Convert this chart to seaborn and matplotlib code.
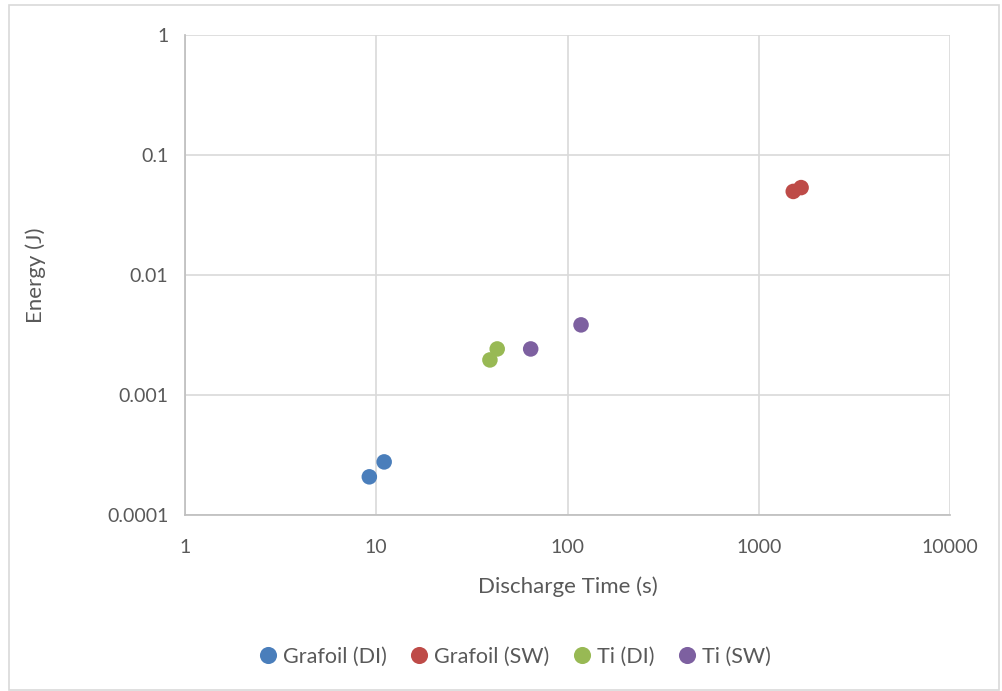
import matplotlib
matplotlib.use("Agg")
import matplotlib.pyplot as plt
import seaborn as sns
import pandas as pd
from matplotlib.patches import Rectangle
from matplotlib.ticker import FixedLocator, FixedFormatter, NullLocator

series = ["Grafoil (DI)", "Grafoil (SW)", "Ti (DI)", "Ti (SW)"]
colors = ["#4a7ebb", "#be4b48", "#98b954", "#7d60a0"]
time_grafoil_di = [9.2, 11.0]
energy_grafoil_di = [0.000208, 0.000277]
time_grafoil_sw = [1515, 1665]
energy_grafoil_sw = [0.0497, 0.0535]
time_ti_di = [39.3, 42.9]
energy_ti_di = [0.00196, 0.00242]
time_ti_sw = [64.2, 117.7]
energy_ti_sw = [0.00242, 0.00384]
x_ticks = [1, 10, 100, 1000, 10000]
x_labels = ["1", "10", "100", "1000", "10000"]
y_ticks = [0.0001, 0.001, 0.01, 0.1, 1]
y_labels = ["0.0001", "0.001", "0.01", "0.1", "1"]

rows = []
for name, xs, ys in zip(series,
                        [time_grafoil_di, time_grafoil_sw, time_ti_di, time_ti_sw],
                        [energy_grafoil_di, energy_grafoil_sw, energy_ti_di, energy_ti_sw]):
    for x, y in zip(xs, ys):
        rows.append({"Series": name, "Time": x, "Energy": y})
df = pd.DataFrame(rows)

sns.set_theme(style="white")
plt.rcParams['font.family'] = ['Lato', 'DejaVu Sans']
text_color = "#595959"

fig = plt.figure(figsize=(10.02, 6.91), dpi=100)
fig.patches.append(Rectangle((9/1002, 1/691), 990/1002, 685/691, transform=fig.transFigure,
                             fill=False, edgecolor="#d9d9d9", linewidth=1.2))
ax = fig.add_axes([185/1002, 1 - 515/691, (950-185)/1002, (515-35)/691])

sns.scatterplot(data=df, x="Time", y="Energy", hue="Series", hue_order=series,
                palette=colors, s=125, edgecolor="none", ax=ax, zorder=3)

ax.set_xscale("log")
ax.set_yscale("log")
ax.set_xlim(1, 10000)
ax.set_ylim(0.0001, 1)
ax.xaxis.set_major_locator(FixedLocator(x_ticks))
ax.xaxis.set_major_formatter(FixedFormatter(x_labels))
ax.yaxis.set_major_locator(FixedLocator(y_ticks))
ax.yaxis.set_major_formatter(FixedFormatter(y_labels))
ax.xaxis.set_minor_locator(NullLocator())
ax.yaxis.set_minor_locator(NullLocator())
ax.grid(True, color="#d9d9d9", linewidth=1.2)
ax.set_axisbelow(True)
for side in ["top", "right"]:
    ax.spines[side].set_visible(False)
ax.spines["left"].set_color("#bfbfbf")
ax.spines["bottom"].set_color("#bfbfbf")
ax.tick_params(axis="x", length=0, labelsize=14, labelcolor=text_color, pad=17)
ax.tick_params(axis="y", length=0, labelsize=14, labelcolor=text_color, pad=12)
ax.set_xlabel("Discharge Time (s)", fontsize=16, color=text_color, labelpad=15)
ax.set_ylabel("Energy (J)", fontsize=16, color=text_color, labelpad=44)

handles, labels = ax.get_legend_handles_labels()
ax.legend(handles, labels, loc="center", bbox_to_anchor=(515/1002, 1 - 657/691),
          bbox_transform=fig.transFigure, ncol=4, frameon=False, fontsize=15.5,
          labelcolor=text_color, handlelength=0.8, handletextpad=0.3,
          columnspacing=1.1, markerscale=1.1)

fig.savefig("out.png", dpi=100)
